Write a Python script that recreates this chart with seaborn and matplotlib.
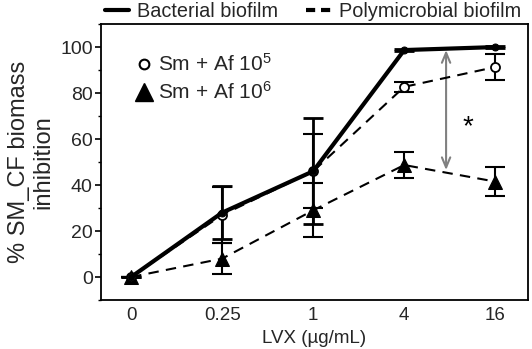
import numpy as np
import pandas as pd
import matplotlib
matplotlib.use("Agg")
import matplotlib.pyplot as plt
from matplotlib.lines import Line2D
from matplotlib.ticker import MultipleLocator
import seaborn as sns

# ---- data ----
concentrations = ["0", "0.25", "1", "4", "16"]
bacterial = [0, 28, 46, 98.7, 100]
bacterial_err = [0, 11.5, 23, 0.5, 0.5]
af5 = [0, 27, 46, 82.7, 91.3]
af5_err = [0, 12, 16, 2.2, 5.7]
af6 = [0, 8, 29, 48.7, 41.5]
af6_err = [0, 6.8, 11.8, 5.8, 6.2]

sns.set_theme(style="ticks")
plt.rcParams["font.family"] = ["Liberation Sans", "DejaVu Sans"]
plt.rcParams["mathtext.default"] = "regular"

fig = plt.figure(figsize=(5.32, 3.49), dpi=100)
ax = fig.add_axes([0.190, 0.1404, 0.8025, 0.7906])

pos = np.arange(len(concentrations))
df = pd.DataFrame({
    "pos": np.tile(pos, 3),
    "val": bacterial + af5 + af6,
    "series": ["bac"] * 5 + ["af5"] * 5 + ["af6"] * 5,
})

# error bars
ax.errorbar(pos, af6, yerr=af6_err, fmt="none", ecolor="black", elinewidth=1.5,
            capsize=7, capthick=1.5, zorder=2)
ax.errorbar(pos, af5, yerr=af5_err, fmt="none", ecolor="black", elinewidth=1.5,
            capsize=7, capthick=1.5, zorder=2)
ax.errorbar(pos, bacterial, yerr=bacterial_err, fmt="none", ecolor="black", elinewidth=2,
            capsize=7, capthick=2, zorder=2)

sns.lineplot(data=df[df.series == "af6"], x="pos", y="val", ax=ax, color="black",
             lw=1.5, marker="^", markersize=10, markeredgecolor="black",
             markerfacecolor="black", legend=False, zorder=3)
ax.lines[-1].set_dashes((5, 3.5))
sns.lineplot(data=df[df.series == "af5"], x="pos", y="val", ax=ax, color="black",
             lw=1.5, marker="o", markersize=6.5, markeredgecolor="black",
             markerfacecolor="white", markeredgewidth=1.3, legend=False, zorder=4)
ax.lines[-1].set_dashes((5, 3.5))
sns.lineplot(data=df[df.series == "bac"], x="pos", y="val", ax=ax, color="black",
             lw=3, marker="o", markersize=5, markeredgecolor="black",
             markerfacecolor="black", legend=False, zorder=5)

# significance arrow
ax.annotate("", xy=(3.46, 46.5), xytext=(3.46, 98.7),
            arrowprops=dict(arrowstyle="<->,head_length=0.6,head_width=0.25",
                            color="#808080", lw=1.5, shrinkA=0, shrinkB=0), zorder=1)
ax.text(3.70, 65, "*", fontsize=20, ha="center", va="center", color="black")

ax.set_xlim(-0.33, 4.36)
ax.set_ylim(-10, 110)
ax.set_xticks(pos)
ax.set_xticklabels(concentrations)
ax.set_yticks([0, 20, 40, 60, 80, 100])
ax.yaxis.set_minor_locator(MultipleLocator(10))
ax.tick_params(axis="x", length=0, labelsize=13.5, pad=5)
ax.tick_params(axis="y", which="major", length=4, width=1.2, labelsize=14, pad=2, color="black")
ax.tick_params(axis="y", which="minor", length=2.5, width=1, color="black")
for s in ax.spines.values():
    s.set_visible(True)
    s.set_color("black")
    s.set_linewidth(1.3)

ax.set_xlabel("LVX (µg/mL)", fontsize=13.5, labelpad=4)
ax.set_ylabel("% SM_CF biomass\ninhibition", fontsize=17, labelpad=4, linespacing=1.15)

# top legend
top_handles = [Line2D([], [], color="black", lw=3),
               Line2D([], [], color="black", lw=3, dashes=(2.2, 1.4))]
fig.legend(top_handles, ["Bacterial biofilm", "Polymicrobial biofilm"],
           loc="center", bbox_to_anchor=(0.588, 0.968), ncol=2, frameon=False,
           fontsize=14.3, handlelength=1.25, handletextpad=0.4, columnspacing=1.4,
           borderaxespad=0, borderpad=0)

# inner legend
in_handles = [Line2D([], [], ls="none", marker="o", markersize=7, markerfacecolor="white",
                     markeredgecolor="black", markeredgewidth=1.5),
              Line2D([], [], ls="none", marker="^", markersize=13, markerfacecolor="black",
                     markeredgecolor="black")]
ax.legend(in_handles, ["Sm + Af 10$^{5}$", "Sm + Af 10$^{6}$"], loc="upper left",
          bbox_to_anchor=(0.087, 0.895), frameon=False, fontsize=15, handlelength=0.6,
          handletextpad=0.35, labelspacing=0.3, borderaxespad=0, borderpad=0)

fig.savefig("out.png", dpi=100)
